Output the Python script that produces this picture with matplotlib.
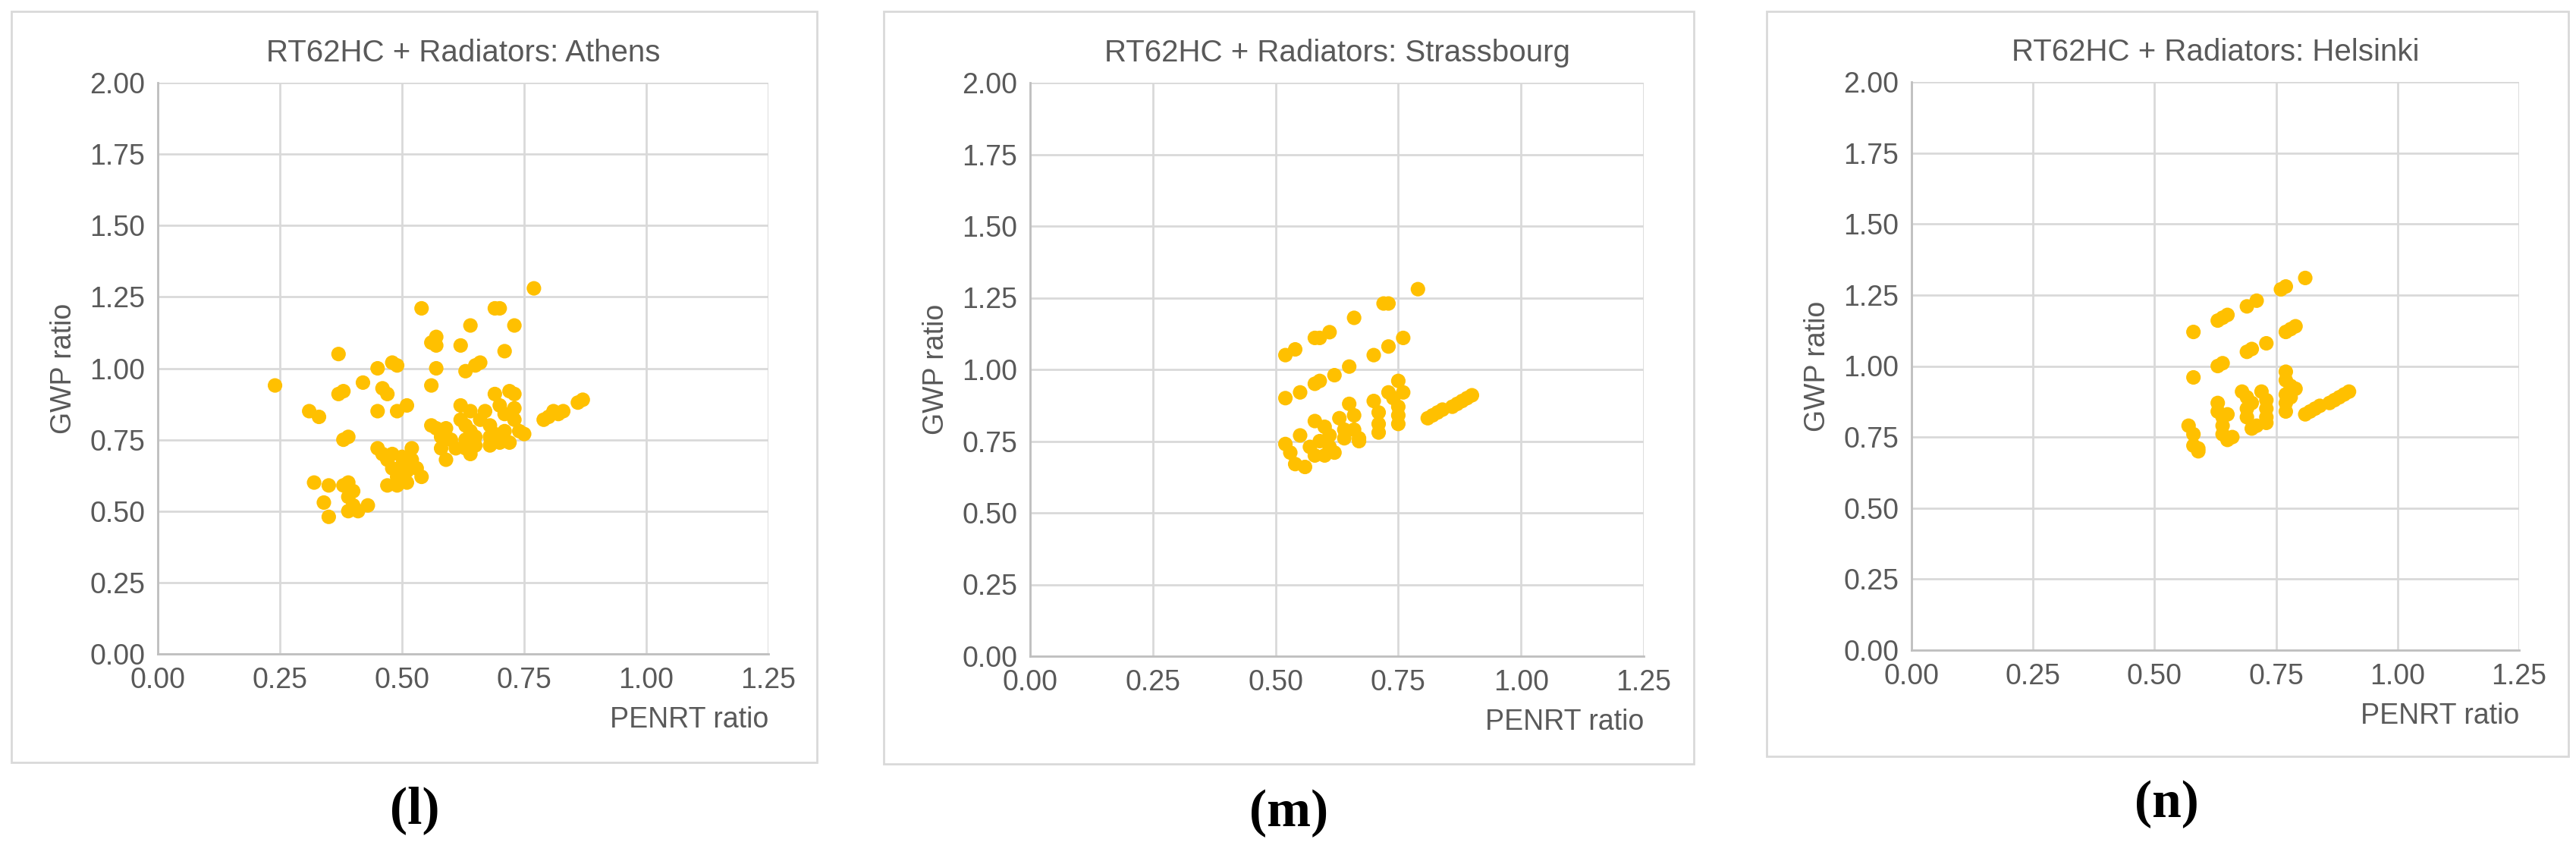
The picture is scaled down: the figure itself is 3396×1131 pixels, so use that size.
import matplotlib
matplotlib.use("Agg")
import matplotlib.pyplot as plt
from matplotlib.patches import Rectangle

plt.rcParams['font.family'] = ['Liberation Sans', 'DejaVu Sans']

# Athens
athens_x = [0.24, 0.31, 0.33, 0.37, 0.37, 0.38, 0.38, 0.39, 0.32, 0.35, 0.34, 0.35, 0.38, 0.39, 0.39, 0.40,
            0.40, 0.41, 0.39, 0.43, 0.42, 0.45, 0.46, 0.47, 0.45, 0.48, 0.49, 0.49, 0.51, 0.45, 0.46, 0.47,
            0.47, 0.48, 0.48, 0.49, 0.49, 0.50, 0.50, 0.51, 0.51, 0.52, 0.52, 0.53, 0.54, 0.54, 0.56, 0.57,
            0.57, 0.57, 0.56, 0.56, 0.57, 0.58, 0.58, 0.59, 0.59, 0.60, 0.61, 0.62, 0.64, 0.63, 0.65, 0.66,
            0.62, 0.62, 0.63, 0.63, 0.63, 0.64, 0.64, 0.65, 0.65, 0.66, 0.67, 0.68, 0.68, 0.68, 0.69, 0.69,
            0.70, 0.69, 0.70, 0.71, 0.73, 0.70, 0.71, 0.72, 0.72, 0.73, 0.73, 0.73, 0.74, 0.75, 0.77, 0.79,
            0.80, 0.81, 0.82, 0.83, 0.86, 0.87, 0.71, 0.64]
athens_y = [0.94, 0.85, 0.83, 1.05, 0.91, 0.92, 0.75, 0.76, 0.60, 0.59, 0.53, 0.48, 0.59, 0.60, 0.55, 0.52,
            0.57, 0.50, 0.50, 0.52, 0.95, 1.00, 0.93, 0.91, 0.85, 1.02, 1.01, 0.85, 0.87, 0.72, 0.70, 0.68,
            0.59, 0.70, 0.65, 0.62, 0.59, 0.66, 0.69, 0.60, 0.64, 0.72, 0.68, 0.65, 0.62, 1.21, 1.09, 1.11,
            1.08, 1.00, 0.94, 0.80, 0.79, 0.76, 0.72, 0.68, 0.79, 0.75, 0.72, 1.08, 1.15, 0.99, 1.01, 1.02,
            0.87, 0.82, 0.80, 0.75, 0.72, 0.85, 0.78, 0.76, 0.73, 0.82, 0.85, 0.80, 0.76, 0.73, 0.91, 0.77,
            0.74, 1.21, 1.21, 1.06, 1.15, 0.87, 0.84, 0.92, 0.74, 0.91, 0.86, 0.82, 0.78, 0.77, 1.28, 0.82,
            0.83, 0.85, 0.84, 0.85, 0.88, 0.89, 0.78, 0.70]

# Strassbourg
stras_x = [0.52, 0.54, 0.58, 0.59, 0.61, 0.66, 0.72, 0.73, 0.79,
           0.52, 0.55, 0.58, 0.59, 0.62, 0.65, 0.70, 0.73, 0.76,
           0.52, 0.53, 0.54, 0.55, 0.56, 0.57, 0.58, 0.58, 0.59, 0.60, 0.60, 0.61, 0.61, 0.62, 0.63, 0.64,
           0.64, 0.65, 0.66, 0.66, 0.67, 0.67, 0.70, 0.71, 0.71, 0.71, 0.73, 0.74, 0.75, 0.75, 0.75, 0.75,
           0.76, 0.81, 0.82, 0.83, 0.84, 0.86, 0.87, 0.88, 0.89, 0.90]
stras_y = [1.05, 1.07, 1.11, 1.11, 1.13, 1.18, 1.23, 1.23, 1.28,
           0.90, 0.92, 0.95, 0.96, 0.98, 1.01, 1.05, 1.08, 1.11,
           0.74, 0.71, 0.67, 0.77, 0.66, 0.73, 0.70, 0.82, 0.75, 0.80, 0.70, 0.77, 0.73, 0.71, 0.83, 0.79,
           0.76, 0.88, 0.84, 0.79, 0.75, 0.76, 0.89, 0.85, 0.81, 0.78, 0.92, 0.90, 0.96, 0.87, 0.84, 0.81,
           0.92, 0.83, 0.84, 0.85, 0.86, 0.87, 0.88, 0.89, 0.90, 0.91]

# Helsinki
hels_x = [0.58, 0.63, 0.64, 0.65, 0.69, 0.71, 0.76, 0.77, 0.81,
          0.58, 0.63, 0.64, 0.69, 0.70, 0.73, 0.77, 0.78, 0.79,
          0.57, 0.58, 0.58, 0.59, 0.59, 0.63, 0.63, 0.64, 0.64, 0.64, 0.65, 0.65, 0.66, 0.68, 0.69, 0.69,
          0.69, 0.70, 0.70, 0.71, 0.72, 0.73, 0.73, 0.73, 0.73, 0.77, 0.77, 0.77, 0.77, 0.77, 0.78, 0.78,
          0.79, 0.81, 0.82, 0.83, 0.84, 0.86, 0.87, 0.88, 0.89, 0.90]
hels_y = [1.12, 1.16, 1.17, 1.18, 1.21, 1.23, 1.27, 1.28, 1.31,
          0.96, 1.00, 1.01, 1.05, 1.06, 1.08, 1.12, 1.13, 1.14,
          0.79, 0.76, 0.72, 0.71, 0.70, 0.87, 0.84, 0.82, 0.79, 0.76, 0.74, 0.83, 0.75, 0.91, 0.89, 0.85,
          0.82, 0.78, 0.87, 0.79, 0.91, 0.88, 0.85, 0.82, 0.80, 0.98, 0.95, 0.90, 0.87, 0.84, 0.93, 0.89,
          0.92, 0.83, 0.84, 0.85, 0.86, 0.87, 0.88, 0.89, 0.90, 0.91]

titles = ["RT62HC + Radiators: Athens", "RT62HC + Radiators: Strassbourg", "RT62HC + Radiators: Helsinki"]
captions = ["l", "m", "n"]
xticks = [0.0, 0.25, 0.5, 0.75, 1.0, 1.25]
yticks = [0.0, 0.25, 0.5, 0.75, 1.0, 1.25, 1.5, 1.75, 2.0]

W, H = 3396, 1131
fig = plt.figure(figsize=(W / 100, H / 100), dpi=100)

# pixel layouts: box (x0, x1, y0, y1), axes (x0, x1, y0, y1), caption (x, y)
boxes = [(15, 1077, 15, 1005), (1165, 2233, 15, 1007), (2329, 3386, 15, 997)]
axes_px = [(208, 1013, 109, 862), (1358, 2167, 109, 865), (2520, 3321, 108, 857)]
cap_px = [(547, 1068), (1699, 1072), (2856, 1060)]
data = [(athens_x, athens_y), (stras_x, stras_y), (hels_x, hels_y)]

grey = '#595959'
for i in range(3):
    bx0, bx1, by0, by1 = boxes[i]
    fig.patches.append(Rectangle((bx0 / W, 1 - by1 / H), (bx1 - bx0) / W, (by1 - by0) / H,
                                 transform=fig.transFigure, fill=False, edgecolor='#d9d9d9', lw=2))
    ax0, ax1, ay0, ay1 = axes_px[i]
    ax = fig.add_axes([ax0 / W, 1 - ay1 / H, (ax1 - ax0) / W, (ay1 - ay0) / H])
    x, y = data[i]
    ax.scatter(x, y, s=190, color='#FFC000', edgecolors='none', zorder=3)
    ax.set_xlim(0, 1.25)
    ax.set_ylim(0, 2.0)
    ax.set_xticks(xticks)
    ax.set_yticks(yticks)
    ax.set_xticklabels([f"{v:.2f}" for v in xticks])
    ax.set_yticklabels([f"{v:.2f}" for v in yticks])
    ax.grid(True, color='#d9d9d9', lw=2)
    ax.set_axisbelow(True)
    for s in ['top', 'right']:
        ax.spines[s].set_visible(False)
    for s in ['left', 'bottom']:
        ax.spines[s].set_color('#bfbfbf')
        ax.spines[s].set_linewidth(2)
    ax.tick_params(length=0, labelsize=27, labelcolor=grey, pad=12)
    ax.set_title(titles[i], fontsize=29, color=grey, pad=20)
    ax.set_ylabel("GWP ratio", fontsize=27, color=grey, labelpad=12)
    ax.set_xlabel("PENRT ratio", fontsize=27, color=grey, loc='right', labelpad=12)
    cx, cy = cap_px[i]
    fig.text(cx / W, 1 - cy / H, f"({captions[i]})", ha='center', va='center',
             fontsize=50, fontweight='bold', family=['Liberation Serif', 'DejaVu Serif'])

fig.savefig("out.png", dpi=100, facecolor='white')
